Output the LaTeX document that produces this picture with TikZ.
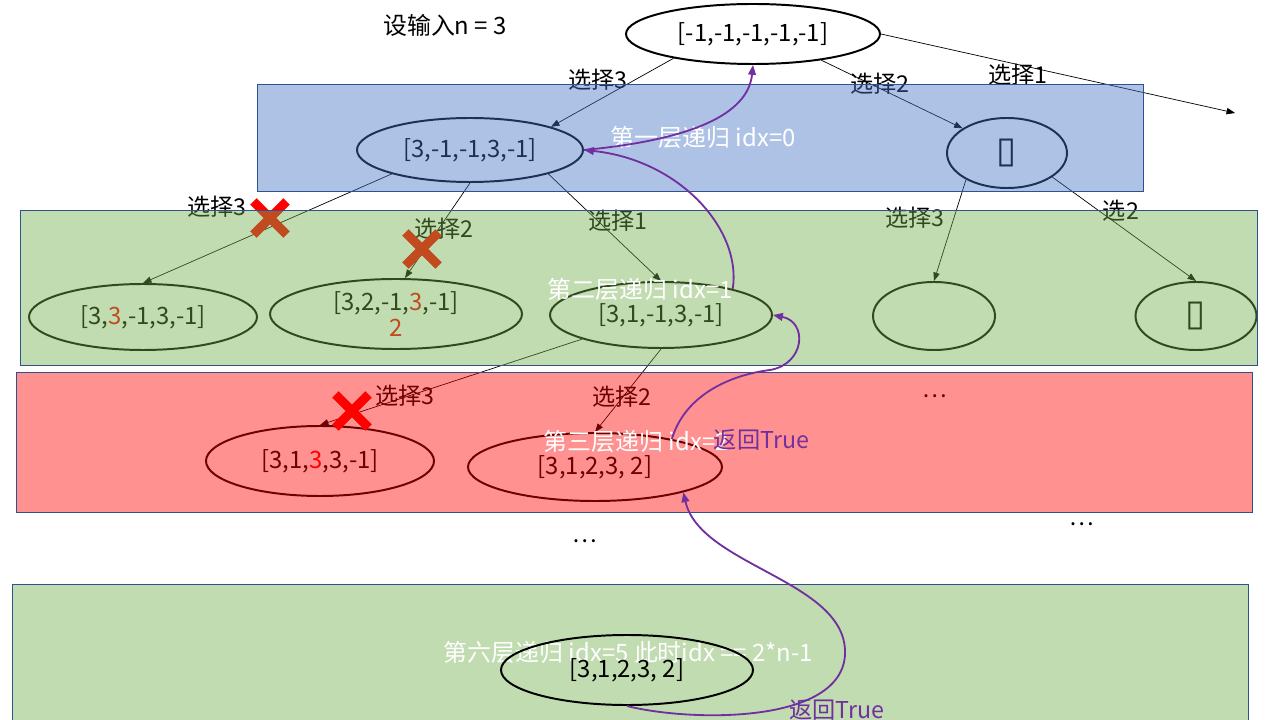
\documentclass[tikz,border=0pt]{standalone}
\usepackage{fontspec}
\setmainfont{Noto Sans CJK SC}
\newfontfamily\symfont{DejaVu Sans}
\usetikzlibrary{shapes.geometric,shapes.misc,arrows.meta}
\definecolor{boxblue}{HTML}{4472C4}
\definecolor{boxgreen}{HTML}{70AD47}
\definecolor{boxred}{HTML}{FF0000}
\definecolor{boxline}{HTML}{2F528F}
\definecolor{retpurple}{HTML}{7030A0}
\tikzset{
  state/.style 2 args={ellipse, draw=black, line width=1.4pt, minimum width=#1*0.025cm,
    minimum height=#2*0.025cm, inner sep=0pt, align=center, font=\fontsize{17}{19}\selectfont},
  layer/.style={draw=boxline, line width=0.7pt, fill=#1, fill opacity=0.43},
  choice/.style={font=\fontsize{16.5}{18}\selectfont},
  levelnote/.style={text=white, anchor=west, font=\fontsize{17}{19}\selectfont},
  retnote/.style={text=retpurple, font=\fontsize{16.5}{18}\selectfont},
  pick/.style={-{Triangle[length=6pt,width=4.5pt]}, line width=0.5pt},
  ret/.style={-{Triangle[length=7pt,width=5.5pt]}, draw=retpurple, line width=1.3pt},
  xmark/.style={cross out, draw=boxred, line width=6.5pt, minimum size=0.6cm, inner sep=0pt},
}
\newcommand{\emptybox}{{\symfont\fontsize{26}{26}\selectfont ▯}}
\begin{document}
\begin{tikzpicture}[x=0.025cm, y=-0.025cm]
\useasboundingbox (0,0) rectangle (1280,720);
% top: input and root state
\node[font=\fontsize{17}{19}\selectfont] (title) at (445,25) {设输入n = 3};
\node[state={254}{60}] (root) at (753,34) {[-1,-1,-1,-1,-1]};
\coordinate (out1) at (1235,113);
% first level
\node[state={226}{64}] (A1) at (470,150) {[3,-1,-1,3,-1]};
\node[state={120}{70}] (A2) at (1007,153) {\emptybox};
\draw[pick] (root.197) -- (A1.16);
\draw[pick] (root.-21) -- (A2.151);
\draw[pick] (root.east) -- (out1);
\node[choice] (c13) at (598,80) {选择3};
\node[choice] (c12) at (880,84) {选择2};
\node[choice] (c11) at (1018,75) {选择1};
% second level
\node[state={228}{66}] (B1) at (143,317) {[3,\textcolor{boxred}{3},-1,3,-1]};
\node[state={252}{70}] (B2) at (396,314) {[3,2,-1,\textcolor{boxred}{3},-1]\\\textcolor{boxred}{2}};
\node[state={222}{66}] (B3) at (661,315) {[3,1,-1,3,-1]};
\node[state={122}{68}] (B4) at (934,316) {};
\node[state={121}{68}] (B5) at (1196,316) {\emptybox};
\draw[pick] (A1.197) -- (B1.north);
\draw[pick] (A1.south) -- (B2.76);
\draw[pick] (A1.-17) -- (B3.north);
\draw[pick] (A2.213) -- (B4.north);
\draw[pick] (A2.-28) -- (B5.north);
\node[choice] (c23) at (217,207) {选择3};
\node[choice] (c22) at (444,229) {选择2};
\node[choice] (c21) at (618,221) {选择1};
\node[choice] (c33) at (915,218) {选择3};
\node[choice] (c32) at (1121,211) {选2};
\node[xmark] (x1) at (270,218) {};
\node[xmark] (x2) at (422,249) {};
% third level
\node[state={228}{70}] (C1) at (320,461) {[3,1,\textcolor{boxred}{3},3,-1]};
\node[state={254}{68}] (C2) at (595,467) {[3,1,2,3, 2]};
\draw[pick] (B3.197) -- (C1.north);
\draw[pick] (B3.south) -- (C2.north);
\node[choice] (c43) at (405,396) {选择3};
\node[choice] (c42) at (622,397) {选择2};
\node[xmark] (x3) at (352,411) {};
\node[choice] (more1) at (935,396) {…};
% layers
\draw[layer=boxblue] (257,84) rectangle (1143,191);
\draw[layer=boxgreen] (20,210) rectangle (1257,365);
\draw[layer=boxred] (16,372) rectangle (1252,512);
\draw[layer=boxgreen] (12,584) rectangle (1248,730);
% notes on top
\node[levelnote] (n1) at (606,137) {第一层递归 idx=0};
\node[levelnote] (n2) at (543,289) {第二层递归 idx=1};
\node[levelnote] (n3) at (539,441) {第三层递归 idx=2};
\node[retnote, anchor=west] (r3) at (709,440) {返回True};
\node[levelnote] (n6) at (439,652) {第六层递归 idx=5 此时idx == 2*n-1};
\node[state={252}{70}] (D) at (627,670) {\raisebox{-0.4ex}{[3,1,2,3, 2]}};
\node[retnote] (r6) at (837,710) {返回True};
\node[choice] (more2) at (585,541) {…};
\node[choice] (more3) at (1082,524) {…};
% return paths
\draw[ret] (A1.east) .. controls (690,140) and (748,115) .. (root.south);
\draw[ret] (B3.20) .. controls (742,230) and (680,160) .. (A1.east);
\draw[ret] (C2.20) .. controls (685,395) and (730,375) .. (770,370)
  .. controls (805,364) and (808,322) .. (B3.east);
\draw[ret] (D.south) .. controls (690,722) and (848,725) .. (845,650)
  .. controls (842,580) and (700,565) .. (C2.-16);
\end{tikzpicture}
\end{document}
